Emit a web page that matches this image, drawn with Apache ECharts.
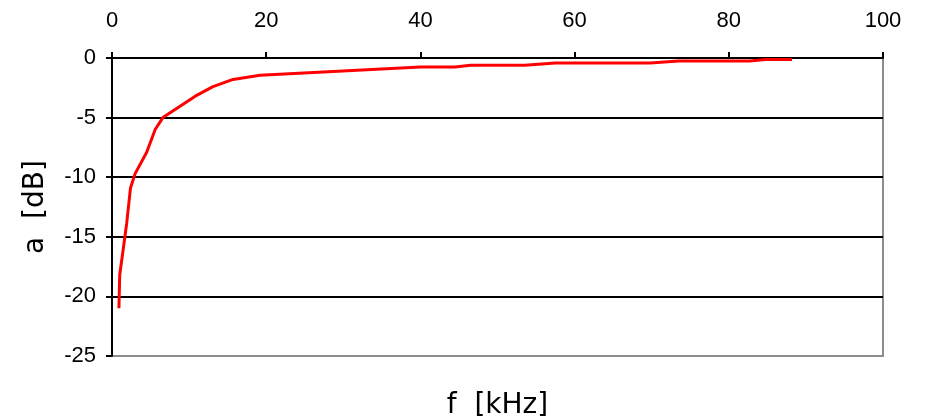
<!DOCTYPE html>
<html>
<head>
<meta charset="utf-8">
<script src="https://cdn.jsdelivr.net/npm/echarts@6/dist/echarts.min.js"></script>
<style>html,body{margin:0;padding:0;background:#fff}#c{width:926px;height:420px}</style>
</head>
<body>
<div id="c"></div>
<script>
const freqKHz = [0.9, 1.0, 1.9, 2.4, 3.0, 4.5, 5.6, 6.6, 10.8, 13.1, 15.7, 19.2, 40, 44.5, 46.5, 53.5, 57.5, 69.8, 73.5, 82.7, 84.8, 88.2];
const attenDB = [-21.0, -18.2, -13.9, -10.9, -9.7, -7.9, -6.0, -5.0, -3.2, -2.4, -1.8, -1.45, -0.75, -0.75, -0.6, -0.6, -0.42, -0.42, -0.25, -0.25, -0.12, -0.12];
const xTitle = 'f  [kHz]';
const yTitle = 'a  [dB]';

const chart = echarts.init(document.getElementById('c'), null, {renderer: 'canvas'});
chart.setOption({
  animation: false,
  backgroundColor: '#fff',
  grid: {left: 112, right: 43, top: 58, bottom: 64, containLabel: false, outerBoundsMode: 'none',
         show: true, borderColor: '#8c8c8c', borderWidth: 2, backgroundColor: 'transparent'},
  xAxis: [{
    type: 'value', position: 'top', min: 0, max: 100, interval: 20,
    axisLine: {show: true, lineStyle: {color: '#000', width: 2}},
    axisTick: {show: true, inside: false, length: 6, lineStyle: {color: '#000', width: 2}},
    axisLabel: {color: '#000', fontSize: 22, fontFamily: 'Liberation Sans', margin: 26},
    splitLine: {show: false}
  }, {
    type: 'value', position: 'bottom', min: 0, max: 100,
    name: xTitle, nameLocation: 'middle', nameGap: 36,
    nameTextStyle: {color: '#000', fontSize: 28, fontFamily: 'DejaVu Sans'},
    axisLine: {show: false}, axisTick: {show: false}, axisLabel: {show: false}, splitLine: {show: false}
  }],
  yAxis: {
    type: 'value', min: -25, max: 0, interval: 5,
    name: yTitle, nameLocation: 'middle', nameGap: 62,
    nameTextStyle: {color: '#000', fontSize: 28, fontFamily: 'DejaVu Sans'},
    axisLine: {show: true, onZero: false, lineStyle: {color: '#000', width: 2}},
    axisTick: {show: true, inside: false, length: 6, lineStyle: {color: '#000', width: 2}},
    axisLabel: {color: '#000', fontSize: 22, fontFamily: 'Liberation Sans', margin: 16},
    splitLine: {show: true, showMinLine: false, lineStyle: {color: '#000', width: 2}}
  },
  series: [{
    type: 'line', xAxisIndex: 0,
    data: freqKHz.map((f, i) => [f, attenDB[i]]),
    showSymbol: false, symbol: 'none',
    lineStyle: {color: '#ff0000', width: 3},
    z: 5
  }]
});
</script>
</body>
</html>
